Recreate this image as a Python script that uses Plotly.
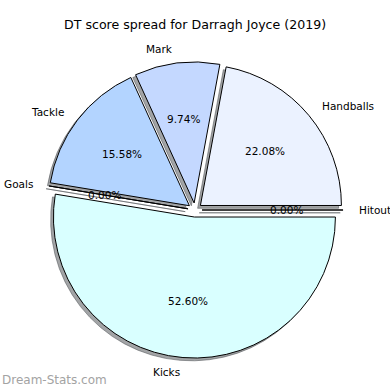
import math
import plotly.graph_objects as go

# ---- data (matplotlib order, starting at 3 o'clock, counter-clockwise) ----
categories = ["Hitout", "Handballs", "Mark", "Tackle", "Goals", "Kicks"]
dt_points = [0, 34, 15, 24, 0, 81]
slice_colors = ["#f0f0ff", "#ebf2ff", "#c4d8ff", "#b3d4ff", "#e0f0ff", "#d9ffff"]
title_text = "DT score spread for Darragh Joyce (2019)"
watermark = "Dream-Stats.com"

# ---- layout geometry (pixels in a 390x390 canvas) ----
W = H = 390
cx, cy, r = 195.0, 210.0, 141.0
explode = 0.05
shadow_off = 2.8

half = r * (1 + explode)
def dom(dx=0.0, dy=0.0):
    return dict(x=[(cx - half + dx) / W, (cx + half + dx) / W],
                y=[(H - (cy + half + dy)) / H, (H - (cy - half + dy)) / H])

fig = go.Figure()

# shadow
fig.add_trace(go.Pie(
    labels=categories, values=dt_points, sort=False,
    direction="counterclockwise", rotation=90,
    pull=[explode] * len(categories),
    marker=dict(colors=["rgba(70,74,78,0.5)"] * len(categories),
                line=dict(color="rgba(70,74,78,0.5)", width=1)),
    textinfo="none", hoverinfo="skip", showlegend=False,
    domain=dom(-shadow_off, shadow_off),
))

# main pie
fig.add_trace(go.Pie(
    labels=categories, values=dt_points, sort=False,
    direction="counterclockwise", rotation=90,
    pull=[explode] * len(categories),
    marker=dict(colors=slice_colors, line=dict(color="black", width=1)),
    textinfo="none", showlegend=False,
    domain=dom(),
))

# labels and percentages, placed like matplotlib (labeldistance 1.1, pctdistance 0.6)
total = sum(dt_points)
annotations = []
start = 0.0
for name, v in zip(categories, dt_points):
    span = 360.0 * v / total
    mid = math.radians(start + span / 2)
    start += span
    ex = cx + explode * r * math.cos(mid)
    ey = cy - explode * r * math.sin(mid)
    lx = ex + 1.1 * r * math.cos(mid)
    ly = ey - 1.1 * r * math.sin(mid)
    px = ex + 0.6 * r * math.cos(mid)
    py = ey - 0.6 * r * math.sin(mid)
    annotations.append(dict(
        x=lx / W, y=1 - ly / H, xref="paper", yref="paper", text=name,
        showarrow=False, xanchor="left" if math.cos(mid) > 0 else "right",
        yanchor="middle", font=dict(size=10.5, color="black")))
    annotations.append(dict(
        x=px / W, y=1 - py / H, xref="paper", yref="paper",
        text=f"{100 * v / total:.2f}%", showarrow=False,
        xanchor="center", yanchor="middle", font=dict(size=10.5, color="black")))

annotations.append(dict(
    x=0.5, y=1 - 25 / H, xref="paper", yref="paper", text=title_text,
    showarrow=False, xanchor="center", yanchor="middle",
    font=dict(size=12.6, color="black")))
annotations.append(dict(
    x=0, y=1 - 380 / H, xref="paper", yref="paper", text=watermark,
    showarrow=False, xanchor="left", yanchor="middle",
    font=dict(size=12, color="#a3a3a3")))

fig.update_layout(
    width=W, height=H,
    margin=dict(l=0, r=0, t=0, b=0),
    paper_bgcolor="white", plot_bgcolor="white",
    font=dict(family="DejaVu Sans"),
    annotations=annotations,
    showlegend=False,
)

fig.write_html("out.html", config={"displayModeBar": False},
               post_script="document.body.style.margin='0';document.body.style.overflow='hidden';")
